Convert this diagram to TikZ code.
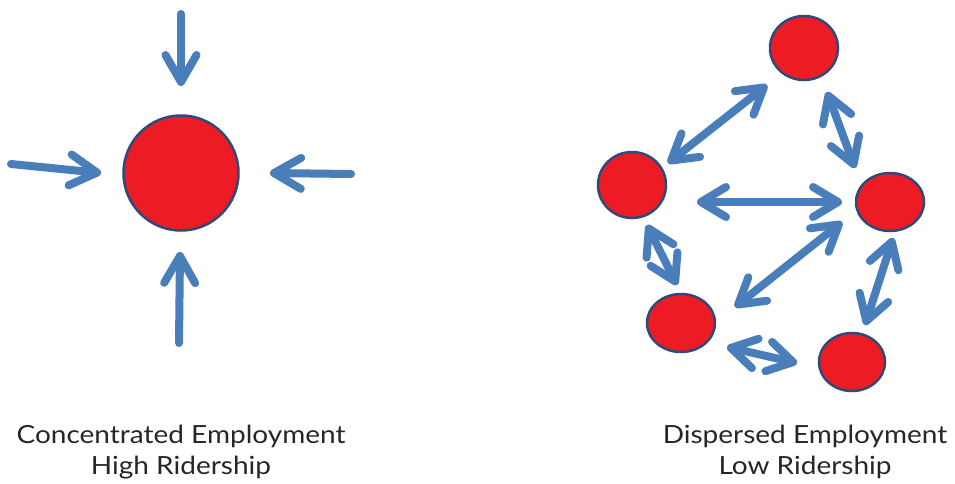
\documentclass[tikz,border=0pt]{standalone}
\usepackage{fontspec}
\setmainfont{Lato}[FakeStretch=1.12]
\usetikzlibrary{arrows.meta,shapes.geometric,calc}
\definecolor{arrblue}{HTML}{4A7EBB}
\definecolor{dotred}{HTML}{ED1C24}
\definecolor{edgeblue}{HTML}{2E4A7A}
\tikzset{
  dot/.style={ellipse, draw=edgeblue, line width=2.5pt, fill=dotred, inner sep=0pt},
  onearrow/.style={draw=arrblue, line width=8pt, line cap=round, -{Straight Barb[length=27pt,width=31pt,round]}},
  twoarrow/.style={draw=arrblue, line width=8pt, line cap=round, {Straight Barb[length=25pt,width=30pt,round]}-{Straight Barb[length=25pt,width=30pt,round]}},
  caption/.style={font=\fontsize{25}{31}\selectfont, text=black!85, align=center}
}
\begin{document}
\begin{tikzpicture}[x=1pt,y=-1pt]
\useasboundingbox (0,0) rectangle (955,483);
% left diagram
\node[dot, circle, minimum size=115pt] (c) at (181,173) {};
\coordinate (tA) at (181,14);
\coordinate (tB) at (181,86);
\coordinate (lA) at (11,164);
\coordinate (lB) at (101,173);
\coordinate (rA) at (351,174);
\coordinate (rB) at (270,173);
\coordinate (bA) at (179,343);
\coordinate (bB) at (180,252);
\draw[onearrow] (tA) -- (tB);
\draw[onearrow] (lA) -- (lB);
\draw[onearrow] (rA) -- (rB);
\draw[onearrow] (bA) -- (bB);
\node[caption] (cap1) at (181,452) {Concentrated Employment\\High Ridership};
% right diagram
\node[dot, minimum width=68pt, minimum height=64pt] (n1) at (804,48) {};
\node[dot, minimum width=68pt, minimum height=66pt] (n2) at (632,185) {};
\node[dot, minimum width=68pt, minimum height=58pt] (n3) at (890,202) {};
\node[dot, minimum width=68pt, minimum height=58pt] (n4) at (681,323) {};
\node[dot, minimum width=66pt, minimum height=58pt] (n5) at (852,362) {};
\coordinate (e12a) at ($(n1)+(-37,37)$);
\coordinate (e12b) at ($(n2)+(36,-22)$);
\coordinate (e13a) at ($(n1)+(23,44)$);
\coordinate (e13b) at ($(n3)+(-35,-34)$);
\coordinate (e23a) at ($(n2)+(65,17)$);
\coordinate (e23b) at ($(n3)+(-48,0)$);
\coordinate (e34a) at ($(n3)+(-48,20)$);
\coordinate (e34b) at ($(n4)+(54,-16)$);
\coordinate (e35a) at ($(n3)+(3,36)$);
\coordinate (e35b) at ($(n5)+(13,-37)$);
\coordinate (e24a) at ($(n2)+(15,40)$);
\coordinate (e24b) at ($(n4)+(-4,-38)$);
\coordinate (e45a) at ($(n4)+(46,24)$);
\coordinate (e45b) at ($(n5)+(-55,1)$);
\draw[twoarrow] (e12a) -- (e12b);
\draw[twoarrow] (e13a) -- (e13b);
\draw[twoarrow] (e23a) -- (e23b);
\draw[twoarrow] (e34a) -- (e34b);
\draw[twoarrow] (e35a) -- (e35b);
\draw[twoarrow] (e24a) -- (e24b);
\draw[twoarrow] (e45a) -- (e45b);
\node[caption] (cap2) at (805,452) {Dispersed Employment\\Low Ridership};
\end{tikzpicture}
\end{document}
